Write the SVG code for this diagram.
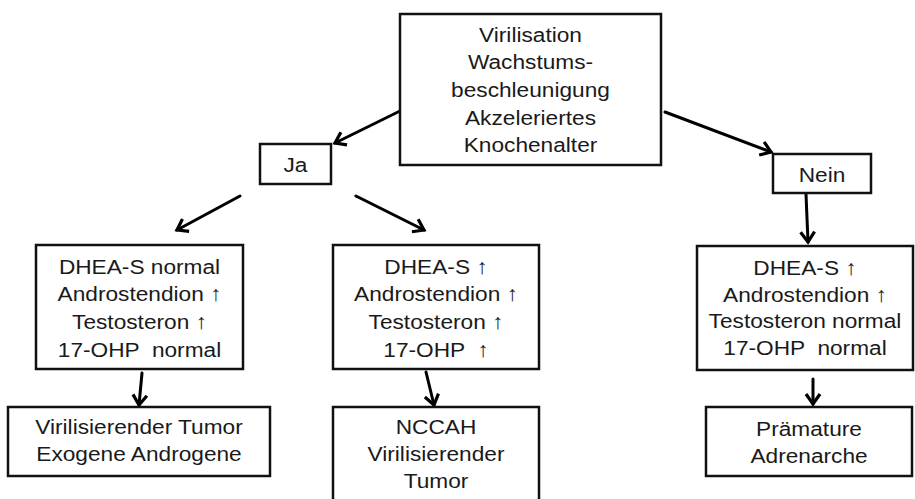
<svg xmlns="http://www.w3.org/2000/svg" width="915" height="499" viewBox="0 0 915 499">
<style>
.box{fill:#fff;stroke:#111;stroke-width:2.5}
.t{font-family:"Liberation Sans",Arial,sans-serif;font-size:21px;fill:#1a1a1a;text-anchor:middle;white-space:pre}
.c{fill:none;stroke:#000;stroke-width:3;stroke-linecap:round}
</style>
<defs>
<marker id="ah" markerUnits="userSpaceOnUse" markerWidth="24" markerHeight="24" viewBox="-12 -12 24 24" refX="0" refY="0" orient="auto">
<path d="M-10,-7 L0,0 L-10,7" fill="none" stroke="#000" stroke-width="3.2" stroke-linejoin="miter"/>
</marker>
</defs>
<rect width="915" height="499" fill="#fff"/>
<g id="connectors">
<line class="c" x1="400" y1="111" x2="335" y2="143" marker-end="url(#ah)"/>
<line class="c" x1="665" y1="112" x2="771" y2="152" marker-end="url(#ah)"/>
<line class="c" x1="240" y1="196" x2="177" y2="230" marker-end="url(#ah)"/>
<line class="c" x1="356" y1="196" x2="424" y2="230" marker-end="url(#ah)"/>
<line class="c" x1="806" y1="194" x2="808" y2="242" marker-end="url(#ah)"/>
<line class="c" x1="142" y1="373" x2="139" y2="405" marker-end="url(#ah)"/>
<line class="c" x1="426" y1="372" x2="434" y2="405" marker-end="url(#ah)"/>
<line class="c" x1="813" y1="379" x2="813" y2="404" marker-end="url(#ah)"/>
</g>
<g id="top">
<rect class="box" x="400" y="14" width="261" height="151"/>
<g transform="translate(530.5 0) scale(1.08 1)">
<text class="t" x="0" y="42">Virilisation</text>
<text class="t" x="0" y="69.5">Wachstums-</text>
<text class="t" x="0" y="97">beschleunigung</text>
<text class="t" x="0" y="125">Akzeleriertes</text>
<text class="t" x="0" y="152.5">Knochenalter</text>
</g>
</g>
<g id="ja">
<rect class="box" x="260" y="144" width="71" height="40"/>
<g transform="translate(295.5 0) scale(1.08 1)"><text class="t" x="0" y="172">Ja</text></g>
</g>
<g id="nein">
<rect class="box" x="773" y="154" width="98" height="39"/>
<g transform="translate(822 0) scale(1.08 1)"><text class="t" x="0" y="182">Nein</text></g>
</g>
<g id="lab-left">
<rect class="box" x="36" y="245" width="207" height="124"/>
<g transform="translate(139.5 0) scale(1.08 1)">
<text class="t" x="0" y="274">DHEA-S normal</text>
<text class="t" x="0" y="301">Androstendion ↑</text>
<text class="t" x="0" y="329">Testosteron ↑</text>
<text class="t" x="0" y="357">17-OHP  normal</text>
</g>
</g>
<g id="lab-mid">
<rect class="box" x="333" y="245" width="206" height="124"/>
<g transform="translate(436 0) scale(1.08 1)">
<text class="t" x="0" y="274">DHEA-S ↑</text>
<text class="t" x="0" y="301">Androstendion ↑</text>
<text class="t" x="0" y="329">Testosteron ↑</text>
<text class="t" x="0" y="357">17-OHP  ↑</text>
</g>
</g>
<g id="lab-right">
<rect class="box" x="697" y="246" width="216" height="124"/>
<g transform="translate(805 0) scale(1.08 1)">
<text class="t" x="0" y="275">DHEA-S ↑</text>
<text class="t" x="0" y="302">Androstendion ↑</text>
<text class="t" x="0" y="328.5">Testosteron normal</text>
<text class="t" x="0" y="355">17-OHP  normal</text>
</g>
</g>
<g id="dx-left">
<rect class="box" x="8" y="407" width="262" height="69"/>
<g transform="translate(139 0) scale(1.08 1)">
<text class="t" x="0" y="434">Virilisierender Tumor</text>
<text class="t" x="0" y="461">Exogene Androgene</text>
</g>
</g>
<g id="dx-mid">
<rect class="box" x="333" y="407" width="206" height="100"/>
<g transform="translate(436 0) scale(1.08 1)">
<text class="t" x="0" y="434">NCCAH</text>
<text class="t" x="0" y="461.5">Virilisierender</text>
<text class="t" x="0" y="488">Tumor</text>
</g>
</g>
<g id="dx-right">
<rect class="box" x="706" y="407" width="206" height="69"/>
<g transform="translate(809 0) scale(1.08 1)">
<text class="t" x="0" y="436">Prämature</text>
<text class="t" x="0" y="463">Adrenarche</text>
</g>
</g>
</svg>
